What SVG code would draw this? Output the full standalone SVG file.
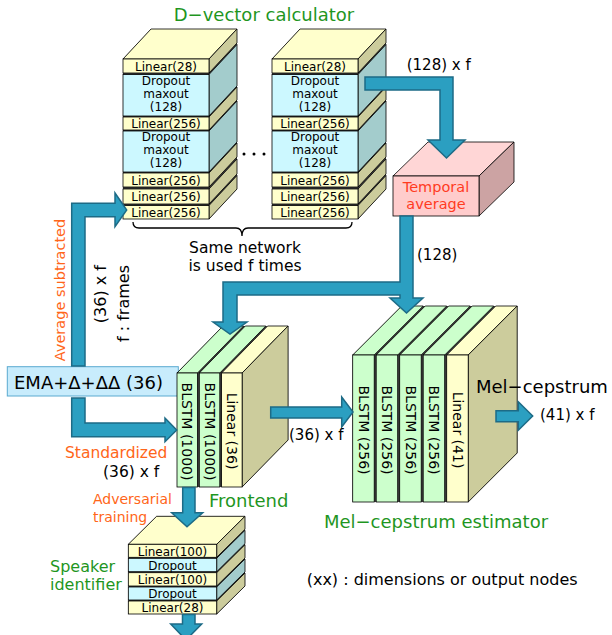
<svg xmlns="http://www.w3.org/2000/svg" width="612" height="635" viewBox="0 0 612 635">
<style>
text{font-family:"DejaVu Sans","Liberation Sans",sans-serif;fill:#000}
.f{stroke:#000;stroke-width:0.8}
.lin{fill:#ffffcc}
.linS{fill:#cccc9c}
.drp{fill:#ccf8ff}
.drpS{fill:#a3cccc}
.grn{fill:#ccffcc}
.und{fill:#3d3d3d}
.ar{fill:#2b9fc1;stroke:#1d6b86;stroke-width:1.5;stroke-linejoin:miter}
.t12{font-size:12px;text-anchor:middle}
.mid{text-anchor:middle;dominant-baseline:central}
.green{fill:#1f961f}
.orange{fill:#ff6619}
.red{fill:#ff3b1f}
</style>

<!-- D-vector left stack -->
<g id="dvec1">
<polygon class="und" points="123,59 151,29 237,29 237,189 209,219 123,219"/>
<polygon class="f lin" points="123,59 151,29 237,29 209,59"/>
<polygon class="f linS" points="209,59 237,29 237,43 209,73"/>
<polygon class="f drpS" points="209,74.5 237,44.5 237,86 209,116"/>
<polygon class="f linS" points="209,117 237,87 237,100 209,130"/>
<polygon class="f drpS" points="209,131 237,101 237,142 209,172"/>
<polygon class="f linS" points="209,173 237,143 237,157 209,187"/>
<polygon class="f linS" points="209,189 237,159 237,174 209,204"/>
<polygon class="f linS" points="209,205.5 237,175.5 237,189 209,219"/>
<rect class="f lin" x="123" y="59" width="86" height="14"/>
<rect class="f drp" x="123" y="74.5" width="86" height="41.5"/>
<rect class="f lin" x="123" y="117" width="86" height="13"/>
<rect class="f drp" x="123" y="131" width="86" height="41"/>
<rect class="f lin" x="123" y="173" width="86" height="14"/>
<rect class="f lin" x="123" y="189" width="86" height="15"/>
<rect class="f lin" x="123" y="205.5" width="86" height="13.5"/>
<text class="t12" x="166" y="70.5">Linear(28)</text>
<text class="t12" x="166" y="85">Dropout</text>
<text class="t12" x="166" y="98">maxout</text>
<text class="t12" x="166" y="111">(128)</text>
<text class="t12" x="166" y="128">Linear(256)</text>
<text class="t12" x="166" y="141">Dropout</text>
<text class="t12" x="166" y="154">maxout</text>
<text class="t12" x="166" y="167">(128)</text>
<text class="t12" x="166" y="184.5">Linear(256)</text>
<text class="t12" x="166" y="201">Linear(256)</text>
<text class="t12" x="166" y="216.5">Linear(256)</text>
</g>

<!-- D-vector right stack -->
<g id="dvec2" transform="translate(149,0)">
<polygon class="und" points="123,59 151,29 237,29 237,189 209,219 123,219"/>
<polygon class="f lin" points="123,59 151,29 237,29 209,59"/>
<polygon class="f linS" points="209,59 237,29 237,43 209,73"/>
<polygon class="f drpS" points="209,74.5 237,44.5 237,86 209,116"/>
<polygon class="f linS" points="209,117 237,87 237,100 209,130"/>
<polygon class="f drpS" points="209,131 237,101 237,142 209,172"/>
<polygon class="f linS" points="209,173 237,143 237,157 209,187"/>
<polygon class="f linS" points="209,189 237,159 237,174 209,204"/>
<polygon class="f linS" points="209,205.5 237,175.5 237,189 209,219"/>
<rect class="f lin" x="123" y="59" width="86" height="14"/>
<rect class="f drp" x="123" y="74.5" width="86" height="41.5"/>
<rect class="f lin" x="123" y="117" width="86" height="13"/>
<rect class="f drp" x="123" y="131" width="86" height="41"/>
<rect class="f lin" x="123" y="173" width="86" height="14"/>
<rect class="f lin" x="123" y="189" width="86" height="15"/>
<rect class="f lin" x="123" y="205.5" width="86" height="13.5"/>
<text class="t12" x="166" y="70.5">Linear(28)</text>
<text class="t12" x="166" y="85">Dropout</text>
<text class="t12" x="166" y="98">maxout</text>
<text class="t12" x="166" y="111">(128)</text>
<text class="t12" x="166" y="128">Linear(256)</text>
<text class="t12" x="166" y="141">Dropout</text>
<text class="t12" x="166" y="154">maxout</text>
<text class="t12" x="166" y="167">(128)</text>
<text class="t12" x="166" y="184.5">Linear(256)</text>
<text class="t12" x="166" y="201">Linear(256)</text>
<text class="t12" x="166" y="216.5">Linear(256)</text>
</g>

<g id="dvec-title">
<text class="green" x="264" y="21" font-size="18" text-anchor="middle">D−vector calculator</text>
<circle cx="244" cy="154" r="1.5"/>
<circle cx="254" cy="154" r="1.5"/>
<circle cx="264" cy="154" r="1.5"/>
<path d="M133,222 Q133,228 139,228 L236,228 Q242,228 242,236 Q242,228 248,228 L346,228 Q352,228 352,222" fill="none" stroke="#000" stroke-width="1.3"/>
<text x="245" y="253" font-size="15.5" text-anchor="middle">Same network</text>
<text x="245" y="271" font-size="15.5" text-anchor="middle">is used f times</text>
</g>

<!-- Temporal average -->
<g id="temporal">
<polygon class="f" fill="#ffd6d6" points="393,176 428,142 514,142 479,176"/>
<polygon class="f" fill="#cca3a3" points="479,176 514,142 514,182 479,216"/>
<rect class="f" fill="#ffcccc" x="393" y="176" width="86" height="40"/>
<text class="red" x="436" y="192" font-size="14.5" text-anchor="middle">Temporal</text>
<text class="red" x="436" y="209" font-size="14.5" text-anchor="middle">average</text>
</g>

<!-- EMA input -->
<g id="ema">
<rect x="7.3" y="366.7" width="171" height="29.3" fill="#c8ecfc" stroke="#5aaad0" stroke-width="1"/>
<text x="14" y="388.5" font-size="18">EMA+Δ+ΔΔ (36)</text>
</g>

<!-- Frontend -->
<g id="frontend">
<polygon class="und" fill="#2f4f2f" points="177,373 223,326 288.1,326 288.1,440 242.1,487 177,487"/>
<polygon class="f grn" points="177,373 223,326 243.5,326 197.5,373"/>
<polygon class="f grn" points="199.3,373 245.3,326 265.8,326 219.8,373"/>
<polygon class="f lin" points="221.6,373 267.6,326 288.1,326 242.1,373"/>
<polygon class="f linS" points="242.1,373 288.1,326 288.1,440 242.1,487"/>
<rect class="f grn" x="177" y="373" width="20.5" height="114"/>
<rect class="f grn" x="199.3" y="373" width="20.5" height="114"/>
<rect class="f lin" x="221.6" y="373" width="20.5" height="114"/>
<text class="mid" font-size="14" transform="translate(187.2,431.5) rotate(90)">BLSTM (1000)</text>
<text class="mid" font-size="14" transform="translate(209.5,431.5) rotate(90)">BLSTM (1000)</text>
<text class="mid" font-size="14" transform="translate(231.8,431) rotate(90)">Linear (36)</text>
<text class="green" x="209" y="507" font-size="18">Frontend</text>
</g>

<!-- Mel-cepstrum estimator -->
<g id="melest">
<polygon class="und" fill="#2f4f2f" points="352.7,355 401.7,306 517.2,306 517.2,453 468.2,502 352.7,502"/>
<polygon class="f grn" points="352.7,355 401.7,306 423.2,306 374.2,355"/>
<polygon class="f grn" points="376.2,355 425.2,306 446.7,306 397.7,355"/>
<polygon class="f grn" points="399.7,355 448.7,306 470.2,306 421.2,355"/>
<polygon class="f grn" points="423.2,355 472.2,306 493.7,306 444.7,355"/>
<polygon class="f lin" points="446.7,355 495.7,306 517.2,306 468.2,355"/>
<polygon class="f linS" points="468.2,355 517.2,306 517.2,453 468.2,502"/>
<rect class="f grn" x="352.7" y="355" width="21.5" height="147"/>
<rect class="f grn" x="376.2" y="355" width="21.5" height="147"/>
<rect class="f grn" x="399.7" y="355" width="21.5" height="147"/>
<rect class="f grn" x="423.2" y="355" width="21.5" height="147"/>
<rect class="f lin" x="446.7" y="355" width="21.5" height="147"/>
<text class="mid" font-size="14" transform="translate(363.5,430) rotate(90)">BLSTM (256)</text>
<text class="mid" font-size="14" transform="translate(387,430) rotate(90)">BLSTM (256)</text>
<text class="mid" font-size="14" transform="translate(410.5,430) rotate(90)">BLSTM (256)</text>
<text class="mid" font-size="14" transform="translate(434,430) rotate(90)">BLSTM (256)</text>
<text class="mid" font-size="14" transform="translate(457.5,430) rotate(90)">Linear (41)</text>
<text class="green" x="436" y="528" font-size="18" text-anchor="middle">Mel−cepstrum estimator</text>
</g>

<!-- Speaker identifier -->
<g id="speaker">
<polygon class="und" points="128.3,544.3 156.6,516.3 245,516.3 245,586 216.7,614 128.3,614"/>
<polygon class="f lin" points="128.3,544.3 156.6,516.3 245,516.3 216.7,544.3"/>
<polygon class="f linS" points="216.7,544.3 245,516.3 245,529.3 216.7,557.3"/>
<polygon class="f drpS" points="216.7,558.3 245,530.3 245,543.7 216.7,571.7"/>
<polygon class="f linS" points="216.7,572.7 245,544.7 245,558 216.7,586"/>
<polygon class="f drpS" points="216.7,587 245,559 245,572 216.7,600"/>
<polygon class="f linS" points="216.7,601 245,573 245,586 216.7,614"/>
<rect class="f lin" x="128.3" y="544.3" width="88.4" height="13"/>
<rect class="f drp" x="128.3" y="558.3" width="88.4" height="13.4"/>
<rect class="f lin" x="128.3" y="572.7" width="88.4" height="13.3"/>
<rect class="f drp" x="128.3" y="587" width="88.4" height="13"/>
<rect class="f lin" x="128.3" y="601" width="88.4" height="13"/>
<text class="t12" x="172.5" y="555.5">Linear(100)</text>
<text class="t12" x="172.5" y="569.5">Dropout</text>
<text class="t12" x="172.5" y="584">Linear(100)</text>
<text class="t12" x="172.5" y="598">Dropout</text>
<text class="t12" x="172.5" y="612">Linear(28)</text>
<text class="green" x="50" y="572" font-size="16">Speaker</text>
<text class="green" x="50" y="590" font-size="16">identifier</text>
</g>

<!-- connectors -->
<g id="connectors">
<polygon class="ar" points="365,77 453,77 453,140 465,140 446.5,158 428,140 440,140 440,90 365,90"/>
<polygon class="ar" points="400,216 413,216 413,298 423,298 406.5,313 390,298 400,298 400,295 237,295 237,322 247,322 230,334 213,322 223,322 223,282 400,282"/>
<polygon class="ar" points="71.7,366 71.7,203.3 115,203.3 115,193 126.7,210 115,226.7 115,216.7 85,216.7 85,366"/>
<polygon class="ar" points="71.7,398 85,398 85,423 165,423 165,418 176.7,430 165,441.7 165,436.7 71.7,436.7"/>
<polygon class="ar" points="270.7,407 341.7,407 341.7,397 353,412 341.7,427 341.7,418 270.7,418"/>
<polygon class="ar" points="496,410.7 518.3,410.7 518.3,401.7 532.7,416 518.3,430.3 518.3,421.7 496,421.7"/>
<polygon class="ar" points="182.7,487.5 195,487.5 195,512.7 202.7,512.7 187,526.7 171.7,512.7 182.7,512.7"/>
<polygon class="ar" points="182.5,614.5 195,614.5 195,624 201.7,624 186,640 170.7,624 182.5,624"/>
</g>

<!-- labels -->
<g id="labels">
<text x="406.7" y="70" font-size="15">(128) x f</text>
<text x="417" y="260" font-size="15">(128)</text>
<text class="orange mid" font-size="14.5" transform="translate(60,290) rotate(-90)">Average subtracted</text>
<text font-size="16" text-anchor="end" dominant-baseline="central" transform="translate(100,265) rotate(-90)">(36) x f</text>
<text font-size="16" text-anchor="end" dominant-baseline="central" transform="translate(123,265) rotate(-90)">f : frames</text>
<text class="orange" x="65" y="458" font-size="15.5">Standardized</text>
<text x="103" y="477" font-size="15.5">(36) x f</text>
<text class="orange" x="93" y="504" font-size="14">Adversarial</text>
<text class="orange" x="93" y="522" font-size="14">training</text>
<text x="289" y="440" font-size="15">(36) x f</text>
<text x="476" y="393" font-size="18">Mel−cepstrum</text>
<text x="540" y="420" font-size="15">(41) x f</text>
<text x="306.7" y="585" font-size="16">(xx) : dimensions or output nodes</text>
</g>
</svg>
